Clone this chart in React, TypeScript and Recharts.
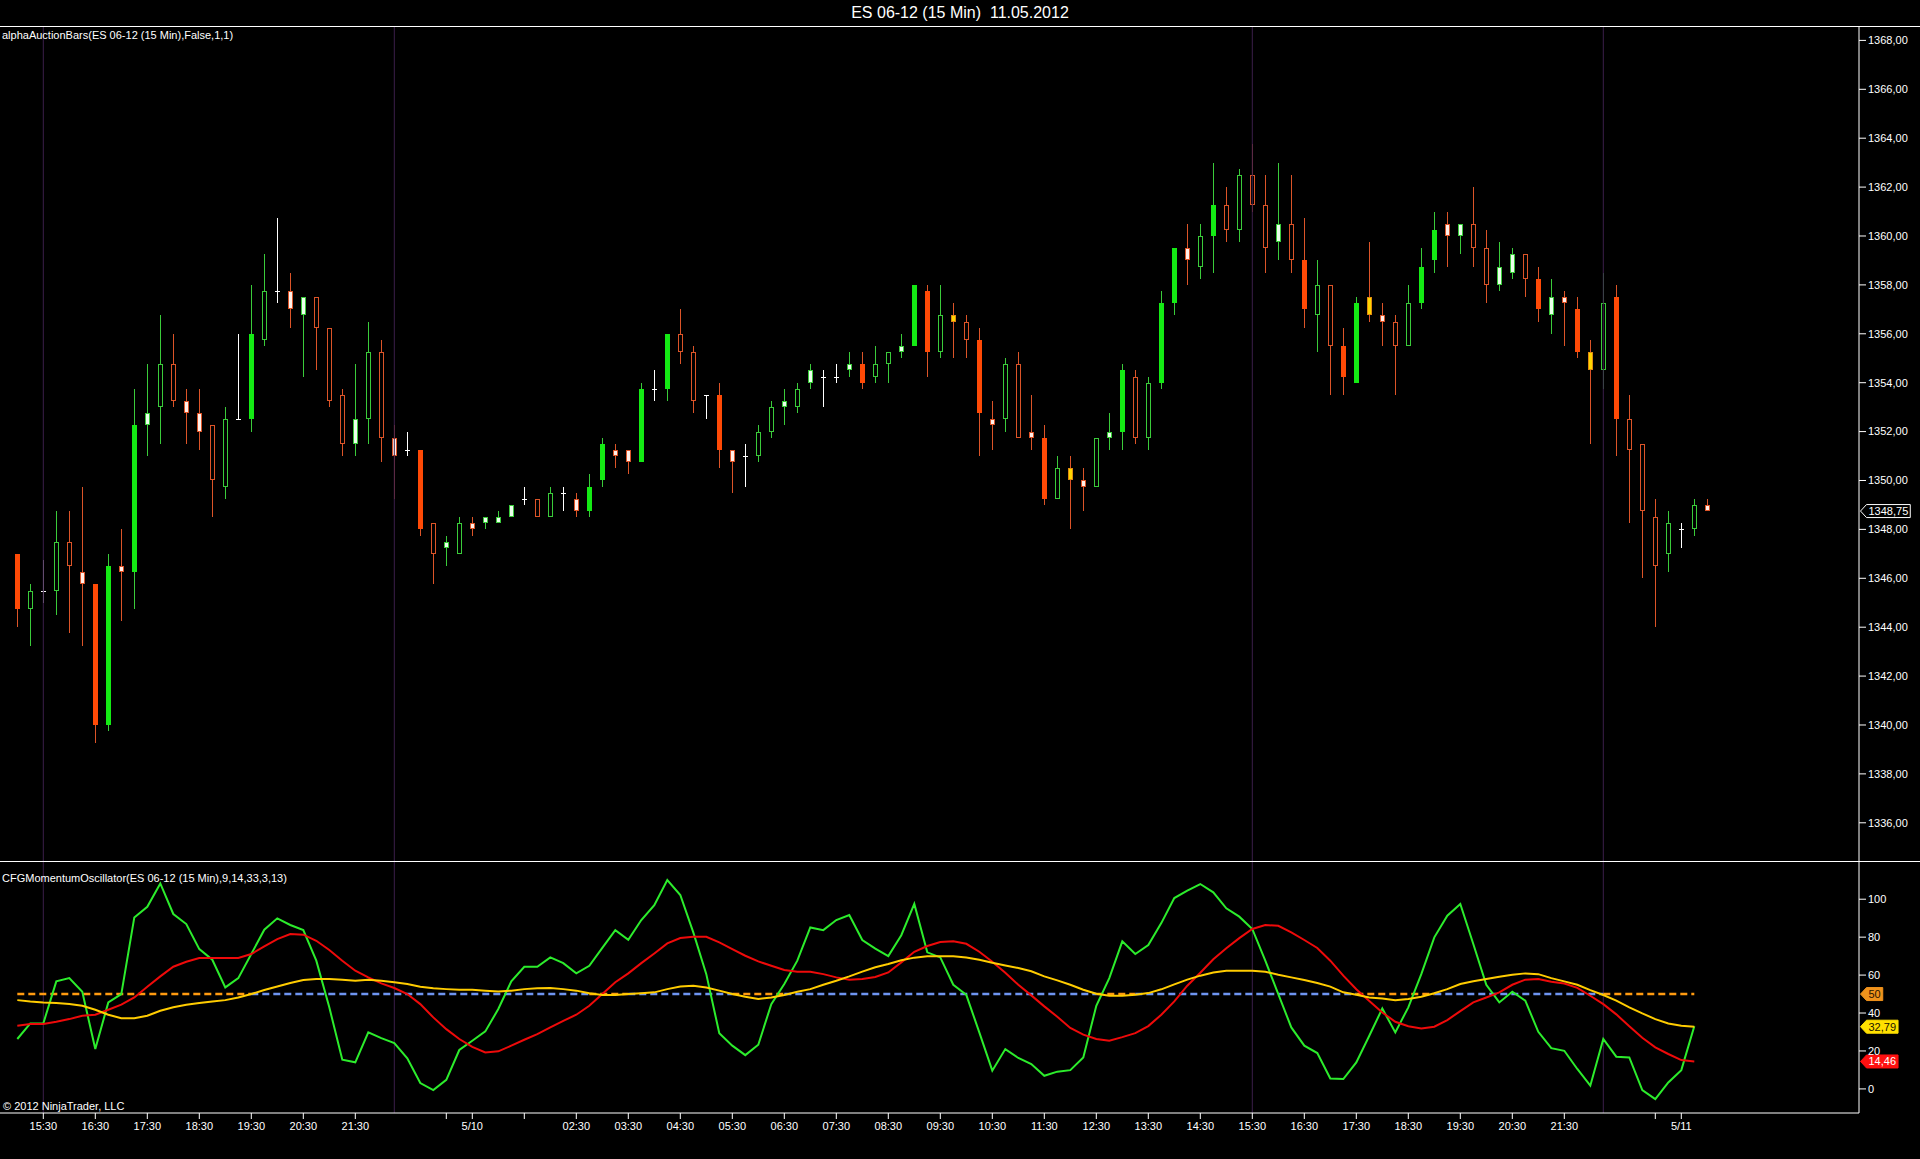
import React from "react";
import { ComposedChart, Bar, Line, XAxis, YAxis, ReferenceLine } from "recharts";

const FONT = "'Liberation Sans', Arial, Helvetica, sans-serif";

// ---------------- DATA ----------------
const opens = [
  1347.0, 1344.75, 1345.5, 1345.5, 1347.5, 1346.25, 1345.75, 1340.0, 1346.5, 1346.25,
  1352.25, 1353.0, 1354.75, 1353.25, 1352.75, 1352.25, 1349.75, 1352.5, 1352.5, 1355.75,
  1357.75, 1357.75, 1356.75, 1357.5, 1356.25, 1353.5, 1351.5, 1352.5, 1355.25, 1351.75,
  1351.25, 1351.25, 1348.25, 1347.25, 1347.0, 1348.25, 1348.25, 1348.25, 1348.5, 1349.25,
  1349.25, 1348.5, 1349.5, 1349.25, 1348.75, 1350.0, 1351.25, 1351.25, 1350.75, 1353.75,
  1353.75, 1356.0, 1355.25, 1353.5, 1353.5, 1351.25, 1351.0, 1351.0, 1352.0, 1353.0,
  1353.0, 1354.0, 1354.25, 1354.25, 1354.5, 1354.75, 1354.25, 1354.75, 1355.25, 1355.5,
  1357.75, 1355.25, 1356.75, 1356.5, 1355.75, 1352.5, 1352.5, 1354.75, 1352.0, 1351.75,
  1349.25, 1350.5, 1350.0, 1349.75, 1351.75, 1352.0, 1354.25, 1351.75, 1354.0, 1357.25,
  1359.5, 1358.75, 1360.0, 1361.25, 1360.25, 1362.5, 1361.25, 1359.75, 1360.5, 1359.0,
  1356.75, 1358.0, 1355.5, 1354.0, 1357.5, 1356.75, 1356.5, 1355.5, 1357.25, 1359.0,
  1360.5, 1360.0, 1360.5, 1359.5, 1358.0, 1358.5, 1359.25, 1358.25, 1356.75, 1357.5,
  1357.0, 1355.25, 1354.5, 1357.5, 1352.5, 1351.5, 1348.5, 1347.0, 1348.0, 1348.0,
  1349.0,
];
const highs = [
  1347.0, 1345.75, 1346.75, 1348.75, 1348.75, 1349.75, 1345.75, 1347.0, 1348.0, 1353.75,
  1354.75, 1356.75, 1356.0, 1353.75, 1353.75, 1352.25, 1353.0, 1356.0, 1358.0, 1359.25,
  1360.75, 1358.5, 1357.5, 1357.5, 1356.25, 1353.75, 1354.75, 1356.5, 1355.75, 1352.25,
  1352.0, 1351.25, 1348.25, 1347.75, 1348.5, 1348.5, 1348.5, 1348.75, 1349.0, 1349.75,
  1349.25, 1349.75, 1349.75, 1349.5, 1350.25, 1351.75, 1351.5, 1351.25, 1354.0, 1354.5,
  1356.0, 1357.0, 1355.5, 1353.5, 1354.0, 1351.25, 1351.5, 1352.25, 1353.25, 1353.75,
  1354.0, 1354.75, 1354.5, 1354.75, 1355.25, 1355.25, 1355.5, 1355.25, 1356.0, 1358.0,
  1358.0, 1358.0, 1357.25, 1356.75, 1356.25, 1353.25, 1355.0, 1355.25, 1353.5, 1352.25,
  1351.0, 1351.0, 1350.5, 1351.75, 1352.75, 1354.75, 1354.5, 1354.25, 1357.75, 1359.5,
  1360.5, 1360.5, 1363.0, 1362.0, 1362.75, 1363.75, 1362.5, 1363.0, 1362.5, 1360.75,
  1359.0, 1358.0, 1356.25, 1357.5, 1359.75, 1357.25, 1356.75, 1358.0, 1359.5, 1361.0,
  1361.0, 1360.5, 1362.0, 1360.25, 1359.75, 1359.5, 1359.25, 1358.75, 1358.25, 1357.75,
  1357.5, 1355.75, 1358.5, 1358.0, 1353.5, 1351.5, 1349.25, 1348.75, 1348.25, 1349.25,
  1349.25,
];
const lows = [
  1344.0, 1343.25, 1345.0, 1344.5, 1343.75, 1343.25, 1339.25, 1339.75, 1344.25, 1344.75,
  1351.0, 1351.5, 1353.0, 1351.5, 1351.25, 1348.5, 1349.25, 1352.5, 1352.0, 1355.5,
  1357.25, 1356.25, 1354.25, 1354.5, 1353.0, 1351.0, 1351.0, 1351.5, 1350.75, 1349.25,
  1351.0, 1347.75, 1345.75, 1346.5, 1347.0, 1347.75, 1348.0, 1348.25, 1348.5, 1349.0,
  1348.5, 1348.5, 1348.75, 1348.5, 1348.5, 1349.75, 1350.5, 1350.25, 1350.75, 1353.25,
  1353.25, 1354.75, 1352.75, 1352.5, 1350.5, 1349.5, 1349.75, 1350.75, 1351.75, 1352.25,
  1352.75, 1353.75, 1353.0, 1354.0, 1354.25, 1353.75, 1354.0, 1354.0, 1355.0, 1355.5,
  1354.25, 1355.0, 1355.0, 1355.0, 1351.0, 1351.25, 1352.0, 1351.75, 1351.25, 1349.0,
  1349.25, 1348.0, 1348.75, 1349.75, 1351.25, 1351.25, 1351.5, 1351.25, 1353.75, 1356.75,
  1358.0, 1358.25, 1358.5, 1359.75, 1359.75, 1361.0, 1358.5, 1359.0, 1358.5, 1356.25,
  1355.25, 1353.5, 1353.5, 1354.0, 1356.5, 1355.5, 1353.5, 1355.5, 1357.0, 1358.5,
  1358.75, 1359.25, 1358.75, 1357.25, 1357.75, 1358.25, 1357.5, 1356.5, 1356.0, 1355.5,
  1355.0, 1351.5, 1353.75, 1351.0, 1348.25, 1346.0, 1344.0, 1346.25, 1347.25, 1347.75,
  1348.75,
];
const closes = [
  1344.75, 1345.5, 1345.5, 1347.5, 1346.5, 1345.75, 1340.0, 1346.5, 1346.25, 1352.25,
  1352.75, 1354.75, 1353.25, 1352.75, 1352.0, 1350.0, 1352.5, 1352.5, 1356.0, 1357.75,
  1357.75, 1357.0, 1357.5, 1356.25, 1353.25, 1351.5, 1352.5, 1355.25, 1351.75, 1351.0,
  1351.25, 1348.0, 1347.0, 1347.5, 1348.25, 1348.0, 1348.5, 1348.5, 1349.0, 1349.25,
  1348.5, 1349.5, 1349.5, 1348.75, 1349.75, 1351.5, 1351.0, 1350.75, 1353.75, 1353.75,
  1356.0, 1355.25, 1353.25, 1353.5, 1351.25, 1350.75, 1351.0, 1352.0, 1353.0, 1353.25,
  1353.75, 1354.5, 1354.25, 1354.25, 1354.75, 1354.0, 1354.75, 1355.25, 1355.5, 1358.0,
  1355.25, 1356.75, 1356.5, 1355.75, 1352.75, 1352.25, 1354.75, 1351.75, 1351.75, 1349.25,
  1350.5, 1350.0, 1349.75, 1351.75, 1352.0, 1354.5, 1351.75, 1354.0, 1357.25, 1359.5,
  1359.0, 1360.0, 1361.25, 1360.25, 1362.5, 1361.25, 1359.5, 1360.5, 1359.0, 1357.0,
  1358.0, 1355.5, 1354.25, 1357.25, 1356.75, 1356.5, 1355.5, 1357.25, 1358.75, 1360.25,
  1360.0, 1360.5, 1359.5, 1358.0, 1358.75, 1359.25, 1358.25, 1357.0, 1357.5, 1357.25,
  1355.25, 1354.5, 1357.25, 1352.5, 1351.25, 1348.75, 1346.5, 1348.25, 1348.0, 1349.0,
  1348.75,
];
// G solid up, R solid down, g hollow up, r hollow down, w light up, p light down, y yellow, d doji
const barKinds = [
  "R", "g", "d", "g", "r", "p", "R", "G", "p", "G",
  "w", "g", "r", "p", "p", "r", "g", "d", "G", "g",
  "d", "p", "w", "r", "r", "r", "w", "g", "r", "p",
  "d", "R", "r", "w", "g", "p", "w", "w", "w", "d",
  "r", "g", "d", "p", "G", "G", "p", "p", "G", "d",
  "G", "r", "r", "d", "R", "p", "d", "g", "g", "w",
  "g", "w", "d", "d", "w", "R", "g", "g", "w", "G",
  "R", "g", "y", "r", "R", "p", "g", "r", "p", "R",
  "g", "y", "p", "g", "w", "G", "r", "g", "G", "G",
  "p", "g", "G", "r", "g", "r", "r", "w", "r", "R",
  "g", "r", "R", "G", "y", "p", "r", "g", "G", "G",
  "p", "w", "r", "r", "w", "w", "r", "R", "w", "p",
  "R", "y", "g", "R", "r", "r", "r", "g", "d", "g",
  "p",
];

const greenLine = [
  26.3, 34.5, 34.5, 56.7, 58.4, 51.2, 21.0, 45.6, 50.0, 90.4,
  96.0, 108.3, 92.2, 86.9, 73.7, 68.1, 53.5, 58.4, 71.1, 83.9,
  89.9, 86.4, 83.7, 67.6, 43.0, 15.4, 14.0, 29.8, 26.8, 24.2,
  16.1, 3.1, -0.6, 4.8, 20.5, 25.4, 30.3, 42.1, 56.7, 64.4,
  64.4, 69.3, 66.3, 60.9, 64.9, 74.3, 83.7, 78.6, 89.0, 96.9,
  110.1, 102.2, 82.5, 60.5, 29.3, 22.8, 17.8, 23.3, 44.7, 55.3,
  67.6, 85.1, 83.7, 89.0, 91.7, 78.5, 74.0, 70.0, 81.0, 97.5,
  72.0, 69.3, 54.9, 49.6, 29.8, 9.6, 21.0, 16.3, 13.1, 6.9,
  9.1, 9.9, 16.6, 43.8, 58.4, 77.8, 71.1, 75.8, 87.4, 100.6,
  104.5, 108.0, 103.6, 95.2, 90.8, 84.3, 67.6, 50.0, 32.4, 22.8,
  18.9, 5.5, 5.2, 14.0, 28.0, 42.4, 29.8, 43.0, 60.5, 79.9,
  91.3, 97.5, 76.4, 54.9, 45.6, 51.2, 46.5, 30.1, 21.5, 20.1,
  10.5, 1.7, 26.3, 17.0, 16.6, -0.6, -5.4, 3.4, 9.9, 33.0,
];
const redLine = [
  33.3, 34.2, 34.2, 35.4, 36.8, 38.6, 39.1, 41.7, 44.4, 48.2,
  53.9, 59.3, 64.4, 67.0, 69.0, 69.0, 69.0, 69.0, 71.1, 75.1,
  79.0, 81.6, 81.3, 78.1, 73.2, 67.6, 62.3, 58.8, 55.6, 53.2,
  50.0, 44.7, 37.7, 31.5, 26.3, 22.2, 19.2, 19.8, 22.8, 25.9,
  28.9, 32.4, 35.9, 39.1, 43.8, 50.0, 56.2, 60.9, 66.3, 71.4,
  76.7, 79.5, 80.2, 80.2, 77.2, 73.7, 70.2, 67.2, 64.9, 62.7,
  61.8, 61.8, 60.5, 58.8, 57.6, 57.9, 59.0, 61.4, 66.7, 72.3,
  75.3, 77.4, 77.8, 76.5, 72.3, 67.0, 61.2, 54.9, 49.3, 43.5,
  38.0, 32.1, 28.6, 26.3, 25.4, 27.3, 29.4, 33.1, 39.1, 46.1,
  54.4, 61.2, 68.3, 74.1, 79.5, 84.3, 86.4, 86.0, 82.5, 78.5,
  74.3, 67.6, 59.7, 52.5, 46.3, 40.3, 35.4, 33.0, 31.9, 32.8,
  36.3, 41.0, 45.6, 48.2, 50.9, 54.9, 57.6, 57.9, 56.5, 55.6,
  53.3, 49.1, 44.7, 39.3, 33.0, 27.0, 21.9, 18.4, 15.2, 14.46,
];
const yellowLine = [
  46.8, 46.1, 45.6, 45.3, 44.7, 43.8, 41.7, 39.1, 37.3, 37.3,
  38.6, 41.2, 43.0, 44.4, 45.3, 46.1, 46.8, 48.2, 50.0, 52.1,
  54.0, 55.8, 57.4, 57.9, 57.9, 57.6, 57.0, 57.6, 57.0, 56.2,
  55.3, 53.9, 53.0, 52.6, 52.3, 52.3, 51.8, 51.4, 51.8, 52.6,
  53.0, 53.2, 52.6, 51.8, 50.4, 49.5, 49.5, 50.0, 50.4, 50.9,
  52.6, 54.0, 54.4, 53.5, 51.8, 50.0, 48.6, 47.4, 48.2, 49.5,
  51.2, 52.6, 54.9, 57.0, 59.3, 61.8, 64.1, 65.8, 67.8, 69.2,
  69.9, 69.9, 69.9, 69.3, 68.1, 66.5, 65.1, 63.7, 62.0, 59.3,
  57.2, 54.9, 52.3, 50.2, 49.1, 49.1, 49.6, 50.5, 52.5, 55.1,
  57.6, 59.7, 61.4, 62.3, 62.3, 62.3, 61.8, 60.2, 58.8, 57.4,
  55.8, 53.9, 50.9, 49.6, 48.2, 47.7, 46.8, 47.4, 48.6, 50.4,
  52.6, 55.3, 56.7, 57.9, 59.1, 60.2, 60.9, 60.5, 58.4, 56.7,
  54.9, 52.1, 49.5, 46.5, 43.0, 39.8, 36.8, 34.5, 33.3, 32.79,
];

const priceTicks = [1336, 1338, 1340, 1342, 1344, 1346, 1348, 1350, 1352, 1354, 1356, 1358, 1360, 1362, 1364, 1366, 1368];
const oscTicks = [0, 20, 40, 60, 80, 100];
const timeTickIndex = [2, 6, 10, 14, 18, 22, 26, 33, 35, 39, 43, 47, 51, 55, 59, 63, 67, 71, 75, 79, 83, 87, 91, 95, 99, 103, 107, 111, 115, 119, 126, 128];
const timeTickLabels = [
  "15:30", "16:30", "17:30", "18:30", "19:30", "20:30", "21:30", "", "5/10", "",
  "02:30", "03:30", "04:30", "05:30", "06:30", "07:30", "08:30", "09:30", "10:30", "11:30",
  "12:30", "13:30", "14:30", "15:30", "16:30", "17:30", "18:30", "19:30", "20:30", "21:30",
  "", "5/11",
];
const sessionBreaks = [2, 29, 95, 122];
const midLevel = 50;

// ---------------- LAYOUT ----------------
const W = 1920;
const H = 1159;
const PRICE_TOP = 27;
const SPLIT = 861;
const AXIS_W = 61;
const PLOT_W = W - AXIS_W;
const FIRST_X = 17.3;
const STEP = 13;
const X_DOMAIN: [number, number] = [-FIRST_X / STEP, (PLOT_W - FIRST_X) / STEP];
const P_DOMAIN: [number, number] = [1334.437, 1368.548];
const O_DOMAIN: [number, number] = [-12.7, 120.14];

// ---------------- BUILD ----------------
const priceData = opens.map((o, i) => ({
  i,
  open: o,
  high: highs[i],
  low: lows[i],
  close: closes[i],
  kind: barKinds[i],
  range: [lows[i], highs[i]],
}));
const oscData = greenLine.map((g, i) => ({ i, green: g, red: redLine[i], yellow: yellowLine[i] }));

// dashed mid line colored by yellow above/below level
const midRuns: { a: number; b: number; above: boolean }[] = [];
for (let i = 0; i < yellowLine.length - 1; i++) {
  const above = (yellowLine[i] + yellowLine[i + 1]) / 2 >= midLevel;
  const last = midRuns[midRuns.length - 1];
  if (last && last.above === above) last.b = i + 1;
  else midRuns.push({ a: i, b: i + 1, above });
}

const GREEN_WICK = "#3ACB3A";
const RED_WICK = "#DC5428";
const STYLES: Record<string, { wick: string; fill: string; stroke: string | null; solid: boolean }> = {
  G: { wick: GREEN_WICK, fill: "#14EA14", stroke: null, solid: true },
  R: { wick: RED_WICK, fill: "#FF4A06", stroke: null, solid: true },
  g: { wick: GREEN_WICK, fill: "#000000", stroke: GREEN_WICK, solid: false },
  r: { wick: RED_WICK, fill: "#000000", stroke: RED_WICK, solid: false },
  w: { wick: GREEN_WICK, fill: "#ECFFEC", stroke: GREEN_WICK, solid: false },
  p: { wick: RED_WICK, fill: "#FFF0EA", stroke: RED_WICK, solid: false },
  y: { wick: RED_WICK, fill: "#FFD500", stroke: "#E08A10", solid: false },
  d: { wick: "#FFFFFF", fill: "#FFFFFF", stroke: null, solid: false },
};

const Candle = (props: any) => {
  const { x, y, width, height, payload } = props;
  if (!payload || x == null || y == null) return null;
  const { open, high, low, close, kind } = payload;
  const top = Math.min(y, y + height);
  const h = Math.abs(height);
  const span = high - low;
  const k = span > 0 ? h / span : 0;
  const py = (p: number) => top + (high - p) * k;
  const cx = Math.round(x + width / 2);
  const st = STYLES[kind] || STYLES.g;
  const yH = Math.round(py(high));
  const yL = Math.round(py(low));
  const yO = Math.round(py(open));
  const yC = Math.round(py(close));
  const bTop = Math.min(yO, yC);
  const bBot = Math.max(yO, yC);
  let body: React.ReactNode = null;
  if (kind === "d") {
    body = <line x1={cx - 2} x2={cx + 3} y1={yO + 0.5} y2={yO + 0.5} stroke="#FFFFFF" strokeWidth={1} />;
  } else if (st.solid) {
    body = <rect x={cx - 2} y={bTop} width={5} height={Math.max(bBot - bTop, 1)} fill={st.fill} />;
  } else {
    body = (
      <rect
        x={cx - 1.5}
        y={bTop + 0.5}
        width={4}
        height={Math.max(bBot - bTop - 1, 1)}
        fill={st.fill}
        stroke={st.stroke || st.wick}
        strokeWidth={1}
      />
    );
  }
  return (
    <g>
      <line x1={cx + 0.5} x2={cx + 0.5} y1={yH} y2={yL} stroke={st.wick} strokeWidth={1} />
      {body}
    </g>
  );
};

const charW = (t: string) => {
  let w = 0;
  for (const ch of t) w += ch === "," || ch === "." ? 3.06 : 6.12;
  return w;
};

const makeTag = (text: string, fill: string, stroke: string, color: string) => (props: any) => {
  const vb = props && props.viewBox;
  if (!vb) return null;
  const tip = vb.x + vb.width + 1.5;
  const cy = vb.y + (vb.height || 0) / 2;
  const bx = tip + 6;
  const bw = charW(text) + 4;
  const hh = 6.5;
  const pts = [
    [tip, cy],
    [bx, cy - hh],
    [bx + bw, cy - hh],
    [bx + bw, cy + hh],
    [bx, cy + hh],
  ]
    .map((p) => p.join(","))
    .join(" ");
  return (
    <g>
      <polygon points={pts} fill={fill} stroke={stroke} strokeWidth={1} />
      <text x={bx + 2} y={cy} dy="0.36em" fill={color} fontSize={11} fontFamily={FONT}>
        {text}
      </text>
    </g>
  );
};

const fmtComma = (v: number, d: number) => v.toFixed(d).replace(".", ",");
const tickStyle = { fill: "#FFFFFF", fontSize: 11, fontFamily: FONT };
const SESSION_COLOR = "#3b1f4a";

const lastClose = closes[closes.length - 1];
const lastRed = redLine[redLine.length - 1];
const lastYellow = yellowLine[yellowLine.length - 1];

export default function App() {
  return (
    <div
      style={{
        position: "absolute",
        left: 0,
        top: 0,
        width: W,
        height: H,
        background: "#000",
        overflow: "hidden",
        fontFamily: FONT,
      }}
    >
      <style>{"html,body{margin:0;padding:0;background:#000;overflow:hidden}"}</style>

      <div style={{ position: "absolute", left: 0, top: 0 }}>
        <ComposedChart width={W} height={SPLIT} data={priceData} margin={{ top: PRICE_TOP, right: 0, bottom: 0, left: 0 }}>
          <XAxis dataKey="i" type="number" domain={X_DOMAIN} hide allowDataOverflow />
          <YAxis
            orientation="right"
            type="number"
            domain={P_DOMAIN}
            allowDataOverflow
            ticks={priceTicks}
            interval={0}
            width={AXIS_W}
            tickSize={7}
            tickMargin={2}
            tick={tickStyle}
            tickFormatter={(v: number) => fmtComma(v, 2)}
            axisLine={{ stroke: "#FFFFFF" }}
            tickLine={{ stroke: "#FFFFFF" }}
          />
          {sessionBreaks.map((s) => (
            <ReferenceLine key={"s" + s} x={s} stroke={SESSION_COLOR} strokeWidth={1} />
          ))}
          <Bar dataKey="range" barSize={5} shape={Candle} isAnimationActive={false} />
          <ReferenceLine y={lastClose} strokeOpacity={0} label={makeTag(fmtComma(lastClose, 2), "#000000", "#FFFFFF", "#FFFFFF")} />
        </ComposedChart>
      </div>

      <div style={{ position: "absolute", left: 0, top: SPLIT }}>
        <ComposedChart width={W} height={H - SPLIT} data={oscData} margin={{ top: 0, right: 0, bottom: 0, left: 0 }}>
          <XAxis
            dataKey="i"
            type="number"
            domain={X_DOMAIN}
            allowDataOverflow
            ticks={timeTickIndex}
            interval={0}
            height={46}
            tickSize={6}
            tickMargin={3}
            tick={tickStyle}
            tickFormatter={(v: number) => {
              const j = timeTickIndex.indexOf(v);
              return j >= 0 ? timeTickLabels[j] : "";
            }}
            axisLine={{ stroke: "#FFFFFF" }}
            tickLine={{ stroke: "#FFFFFF" }}
          />
          <YAxis
            orientation="right"
            type="number"
            domain={O_DOMAIN}
            allowDataOverflow
            ticks={oscTicks}
            interval={0}
            width={AXIS_W}
            tickSize={7}
            tickMargin={2}
            tick={tickStyle}
            axisLine={{ stroke: "#FFFFFF" }}
            tickLine={{ stroke: "#FFFFFF" }}
          />
          {sessionBreaks.map((s) => (
            <ReferenceLine key={"o" + s} x={s} stroke={SESSION_COLOR} strokeWidth={1} />
          ))}
          {midRuns.map((r, idx) => (
            <ReferenceLine
              key={"m" + idx}
              segment={[
                { x: r.a, y: midLevel },
                { x: r.b, y: midLevel },
              ]}
              stroke={r.above ? "#6E94F0" : "#FF9A10"}
              strokeWidth={2.5}
              strokeDasharray="7 4"
            />
          ))}
          <Line dataKey="green" type="linear" stroke="#2CEC2C" strokeWidth={2} dot={false} isAnimationActive={false} />
          <Line dataKey="red" type="linear" stroke="#EE0A0A" strokeWidth={2} dot={false} isAnimationActive={false} />
          <Line dataKey="yellow" type="linear" stroke="#FFCC00" strokeWidth={2} dot={false} isAnimationActive={false} />
          <ReferenceLine y={midLevel} strokeOpacity={0} label={makeTag(String(midLevel), "#F0921C", "#F0921C", "#2A1400")} />
          <ReferenceLine y={lastYellow} strokeOpacity={0} label={makeTag(fmtComma(lastYellow, 2), "#FFE000", "#FFE000", "#1A1400")} />
          <ReferenceLine y={lastRed} strokeOpacity={0} label={makeTag(fmtComma(lastRed, 2), "#FF1010", "#FF1010", "#FFFFFF")} />
        </ComposedChart>
      </div>

      {/* frame lines */}
      <div style={{ position: "absolute", left: 0, top: PRICE_TOP - 1, width: W, height: 1, background: "#FFFFFF" }} />
      <div style={{ position: "absolute", left: 0, top: SPLIT, width: W, height: 1, background: "#FFFFFF" }} />

      {/* texts */}
      <div
        style={{
          position: "absolute",
          left: 0,
          top: 3,
          width: W,
          textAlign: "center",
          color: "#FFFFFF",
          fontSize: 16,
          lineHeight: "20px",
          whiteSpace: "pre",
        }}
      >
        {"ES 06-12 (15 Min)  11.05.2012"}
      </div>
      <div style={{ position: "absolute", left: 2, top: 29, color: "#FFFFFF", fontSize: 11, lineHeight: "13px", whiteSpace: "pre" }}>
        {"alphaAuctionBars(ES 06-12 (15 Min),False,1,1)"}
      </div>
      <div style={{ position: "absolute", left: 2, top: 872, color: "#FFFFFF", fontSize: 11, lineHeight: "13px", whiteSpace: "pre" }}>
        {"CFGMomentumOscillator(ES 06-12 (15 Min),9,14,33,3,13)"}
      </div>
      <div style={{ position: "absolute", left: 3, top: 1100, color: "#FFFFFF", fontSize: 11, lineHeight: "13px", whiteSpace: "pre" }}>
        {"© 2012 NinjaTrader, LLC"}
      </div>
    </div>
  );
}
